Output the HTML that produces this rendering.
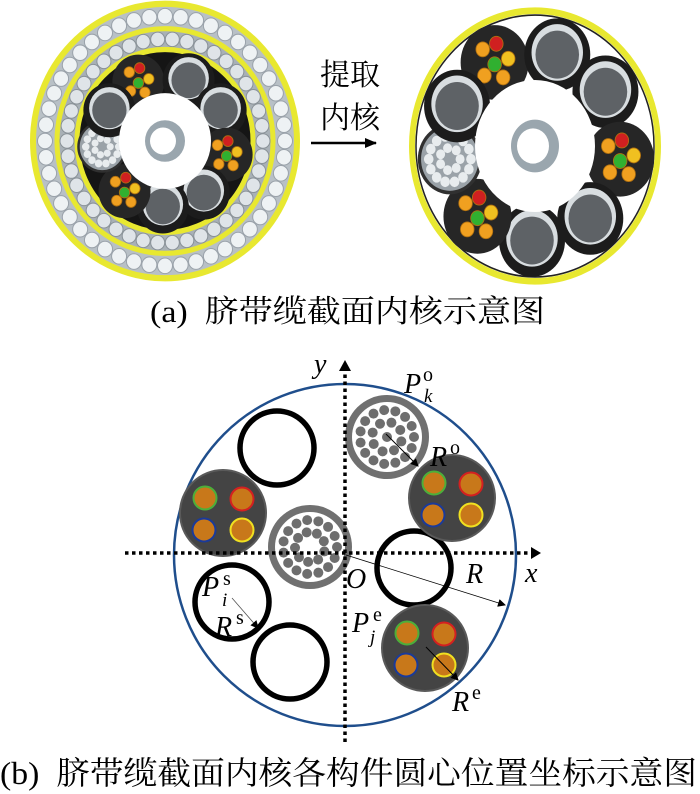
<!DOCTYPE html>
<html><head><meta charset="utf-8"><style>
html,body{margin:0;padding:0;background:#fff}
svg{display:block}
text{font-family:"Liberation Serif","Noto Serif CJK SC",serif}
</style></head><body>
<svg id="s" width="700" height="794" viewBox="0 0 700 794" xmlns="http://www.w3.org/2000/svg">
<defs>
<marker id="ah" markerWidth="8" markerHeight="8" refX="7" refY="4" orient="auto" markerUnits="userSpaceOnUse"><path d="M0,0 L8,4 L0,8 z" fill="#000"/></marker>
<marker id="ahb" markerWidth="12" markerHeight="12" refX="11" refY="6" orient="auto" markerUnits="userSpaceOnUse"><path d="M0,1 L12,6 L0,11 z" fill="#000"/></marker>
</defs>
<g id="topg"></g>
<line x1="311" y1="143" x2="376" y2="143" stroke="#000" stroke-width="2.5" marker-end="url(#ahb)"/>
<text x="320" y="85" font-size="30">提取</text>
<text x="320" y="128" font-size="30">内核</text>
<text x="150" y="322" font-size="31" textLength="395" lengthAdjust="spacingAndGlyphs">(a)&#160; 脐带缆截面内核示意图</text>
<g id="botg"></g>
<text x="0" y="784" font-size="32" textLength="697" lengthAdjust="spacingAndGlyphs">(b)&#160; 脐带缆截面内核各构件圆心位置坐标示意图</text>
</svg>
<script>
(function(){
const NS="http://www.w3.org/2000/svg";
function el(p,t,a){const e=document.createElementNS(NS,t);for(const k in a)e.setAttribute(k,a[k]);p.appendChild(e);return e;}
const topG=document.getElementById('topg'), bot=document.getElementById('botg');

function tube(g,x,y,r){el(g,'circle',{cx:x,cy:y,r:r,fill:'#1c1c1c'});el(g,'circle',{cx:x,cy:y-2,r:r*0.78,fill:'#d8dde0'});el(g,'circle',{cx:x,cy:y,r:r*0.66,fill:'#5e6266'});}
function power(g,x,y,r){el(g,'circle',{cx:x,cy:y,r:r,fill:'#262626'});
  const pts=[[-0.35,-0.35],[0.05,-0.5],[0.4,-0.1],[0,0.05],[-0.3,0.35],[0.25,0.4]];
  const c2=['#f0a020','#d02020','#f0c020','#30b030','#f0a020','#f0a020'];
  pts.forEach((p,i)=>el(g,'circle',{cx:x+p[0]*r,cy:y+p[1]*r,r:r*0.2,fill:c2[i],stroke:'#b07010','stroke-width':0.8}));}
function strand(g,x,y,r){el(g,'circle',{cx:x,cy:y,r:r,fill:'#303030'});el(g,'circle',{cx:x,cy:y,r:r*0.9,fill:'#9aa2a8'});
  for(let k=0;k<14;k++){const a=k/14*2*Math.PI;el(g,'circle',{cx:x+Math.cos(a)*r*0.66,cy:y+Math.sin(a)*r*0.66,r:r*0.15,fill:'#e8ecee'});}
  for(let k=0;k<7;k++){const a=k/7*2*Math.PI;el(g,'circle',{cx:x+Math.cos(a)*r*0.32,cy:y+Math.sin(a)*r*0.32,r:r*0.14,fill:'#e8ecee'});}}

(function(){
 const g=el(topG,'g',{transform:'translate(165,141) scale(1,1.04)'});
 el(g,'circle',{cx:0,cy:0,r:132,fill:'#b8c0c6',stroke:'#e8e830','stroke-width':6});
 for(let k=0;k<48;k++){const a=k/48*2*Math.PI;el(g,'circle',{cx:Math.cos(a)*120,cy:Math.sin(a)*120,r:7.5,fill:'#eef2f4',stroke:'#9aa2aa','stroke-width':1});}
 el(g,'circle',{cx:0,cy:0,r:108,fill:'#a8b0b6',stroke:'#e8e830','stroke-width':5});
 for(let k=0;k<42;k++){const a=k/42*2*Math.PI;el(g,'circle',{cx:Math.cos(a)*98,cy:Math.sin(a)*98,r:7,fill:'#dfe4e8',stroke:'#8a9298','stroke-width':1});}
 el(g,'circle',{cx:0,cy:0,r:88,fill:'#151515',stroke:'#e8e830','stroke-width':5});
 const items=[['p',-115],['t',-68],['t',-28],['p',12],['t',52],['t',92],['p',130],['s',175],['t',-152]];
 items.forEach(([t,d])=>{const a=d*Math.PI/180,x=Math.cos(a)*63,y=Math.sin(a)*63;if(t=='t')tube(g,x,y,26);else if(t=='p')power(g,x,y,26);else strand(g,x,y,25);});
 el(g,'circle',{cx:0,cy:0,r:46,fill:'#fff'});
 el(g,'circle',{cx:0,cy:0,r:20,fill:'#9aa6ae'});el(g,'circle',{cx:-2,cy:0,r:13,fill:'#fff'});
})();
(function(){
 const g=el(topG,'g',{transform:'translate(535,146) scale(1,1.1)'});
 el(g,'circle',{cx:0,cy:0,r:123,fill:'#fff',stroke:'#e8e830','stroke-width':6});
 el(g,'circle',{cx:0,cy:0,r:119,fill:'none',stroke:'#222','stroke-width':1.5});
 const items=[['p',-118],['t',-75],['t',-35],['p',8],['t',50],['t',92],['p',132],['s',172],['t',-155]];
 items.forEach(([t,d])=>{const a=d*Math.PI/180,x=Math.cos(a)*86,y=Math.sin(a)*86;if(t=='t')tube(g,x,y,33);else if(t=='p')power(g,x,y,34);else strand(g,x,y,32);});
 el(g,'circle',{cx:0,cy:0,r:60,fill:'#fff'});
 el(g,'circle',{cx:0,cy:0,r:24,fill:'#9aa6ae'});el(g,'circle',{cx:-2,cy:0,r:16,fill:'#fff'});
})();

el(bot,'circle',{cx:345,cy:555,r:171,fill:'#fff',stroke:'#1f4e8c','stroke-width':2.5});
function ring(x,y){el(bot,'circle',{cx:x,cy:y,r:37,fill:'none',stroke:'#000','stroke-width':5.5});}
function bstrand(x,y,hollow){el(bot,'circle',{cx:x,cy:y,r:42,fill:'#707070'});el(bot,'circle',{cx:x,cy:y,r:35,fill:'#fff'});
 const n1=15;for(let k=0;k<n1;k++){const a=k/n1*2*Math.PI;el(bot,'circle',{cx:x+Math.cos(a)*27,cy:y+Math.sin(a)*27,r:5,fill:'#6e6e6e'});}
 const n2=hollow?9:8;for(let k=0;k<n2;k++){const a=k/n2*2*Math.PI+0.3;el(bot,'circle',{cx:x+Math.cos(a)*15,cy:y+Math.sin(a)*15,r:5,fill:'#6e6e6e'});}
 if(!hollow)el(bot,'circle',{cx:x,cy:y,r:5,fill:'#6e6e6e'});}
function bpower(x,y){el(bot,'circle',{cx:x,cy:y,r:43,fill:'#444',stroke:'#5a5a5a','stroke-width':2});
 const p=[[-18,-15,'#4caf3a'],[19,-14,'#d42020'],[-19,17,'#1a3a9a'],[19,17,'#f0e020']];
 p.forEach(q=>el(bot,'circle',{cx:x+q[0],cy:y+q[1],r:11.5,fill:'#c8781a',stroke:q[2],'stroke-width':2}));}
ring(277,448);ring(414,568);ring(232,602);ring(290,662);
bpower(223,513);bpower(452,498);bpower(425,648);
bstrand(387,437,false);bstrand(310,547,true);
el(bot,'line',{x1:125,y1:553,x2:532,y2:553,stroke:'#000','stroke-width':3.5,'stroke-dasharray':'3.5 3.5'});
el(bot,'path',{d:'M531,547 L541,553 L531,559 z',fill:'#000'});
el(bot,'line',{x1:345,y1:742,x2:345,y2:370,stroke:'#000','stroke-width':3.5,'stroke-dasharray':'3.5 3.5'});
el(bot,'path',{d:'M339,371 L345,360 L351,371 z',fill:'#000'});
el(bot,'line',{x1:346,y1:555,x2:505,y2:605,stroke:'#000','stroke-width':0.8,'marker-end':'url(#ah)'});
el(bot,'line',{x1:386,y1:434,x2:418,y2:466,stroke:'#000','stroke-width':1,'marker-end':'url(#ah)'});
el(bot,'line',{x1:232,y1:598,x2:258,y2:628,stroke:'#555','stroke-width':0.8,'marker-end':'url(#ah)'});
el(bot,'line',{x1:426,y1:647,x2:458,y2:680,stroke:'#000','stroke-width':1,'marker-end':'url(#ah)'});
function t(x,y,s,sz,it){const e=el(bot,'text',{x:x,y:y,'font-size':sz});if(it)e.setAttribute('font-style','italic');e.textContent=s;return e;}
t(314,373,'y',28,1);
t(404,393,'P',28,1);t(423,381,'o',20);t(424,402,'k',19,1);
t(430,466,'R',28,1);t(450,454,'o',20);
t(466,583,'R',28,1);
t(525,582,'x',28,1);
t(346,588,'O',28,1);
t(202,596,'P',28,1);t(223,585,'s',20);t(222,606,'i',19,1);
t(215,636,'R',28,1);t(236,624,'s',20);
t(352,632,'P',28,1);t(373,621,'e',20);t(370,643,'j',19,1);
t(452,711,'R',28,1);t(472,699,'e',20);
})();
</script>
</body></html>
